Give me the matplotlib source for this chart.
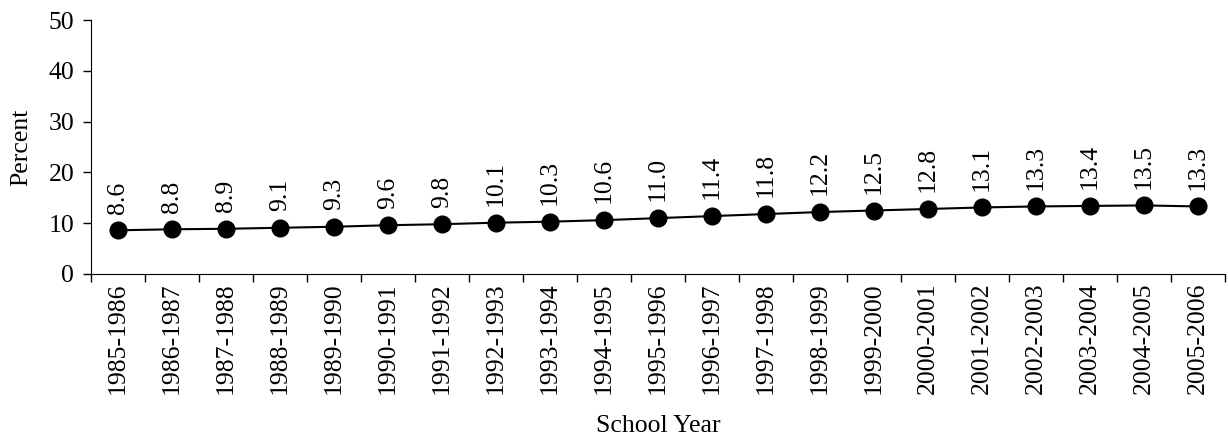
import numpy as np
import matplotlib.pyplot as plt

plt.rcParams['font.family'] = ['Liberation Serif', 'DejaVu Serif']

years = ["1985-1986", "1986-1987", "1987-1988", "1988-1989", "1989-1990",
         "1990-1991", "1991-1992", "1992-1993", "1993-1994", "1994-1995",
         "1995-1996", "1996-1997", "1997-1998", "1998-1999", "1999-2000",
         "2000-2001", "2001-2002", "2002-2003", "2003-2004", "2004-2005",
         "2005-2006"]
percent = [8.6, 8.8, 8.9, 9.1, 9.3, 9.6, 9.8, 10.1, 10.3, 10.6, 11.0,
           11.4, 11.8, 12.2, 12.5, 12.8, 13.1, 13.3, 13.4, 13.5, 13.3]
y_ticks = [0, 10, 20, 30, 40, 50]

fs = 18.5

fig = plt.figure(figsize=(12.28, 4.36), dpi=100)
ax = fig.add_axes([0.0741, 0.3716, 0.9235, 0.5824])

x = np.arange(len(years))
ax.plot(x, percent, color='black', linewidth=1.5, marker='o',
        markersize=12, markerfacecolor='black', markeredgecolor='black')

for xi, v in zip(x, percent):
    ax.annotate(f"{v:.1f}", (xi, v), xytext=(0, 12), textcoords='offset points',
                rotation=90, ha='center', va='bottom', fontsize=fs)

ax.set_xlim(-0.5, len(years) - 0.5)
ax.set_ylim(0, 50)
ax.set_yticks(y_ticks)
ax.tick_params(axis='y', labelsize=fs, length=6, width=1, direction='out', pad=6)

# category axis: ticks sit between the labels
ax.set_xticks(np.arange(len(years) + 1) - 0.5)
ax.set_xticklabels([])
ax.set_xticks(x, minor=True)
ax.set_xticklabels(years, minor=True, rotation=90, fontsize=fs)
ax.tick_params(axis='x', which='major', length=6, width=1, direction='out')
ax.tick_params(axis='x', which='minor', length=0, pad=6)

for side in ['top', 'right']:
    ax.spines[side].set_visible(False)

ax.set_ylabel("Percent", fontsize=fs, labelpad=12)
ax.set_xlabel("School Year", fontsize=fs, labelpad=15)

fig.savefig("out.png", dpi=100)
